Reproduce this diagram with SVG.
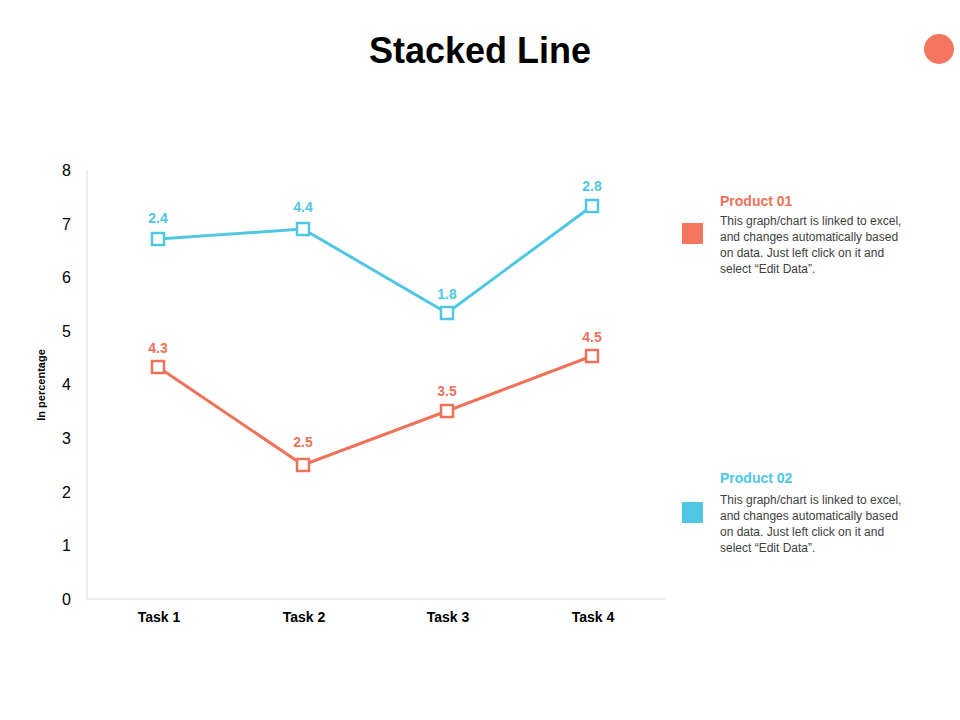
<svg xmlns="http://www.w3.org/2000/svg" width="960" height="720" viewBox="0 0 960 720">
<style>
text{font-family:"Liberation Sans",Arial,sans-serif}
.t{font-size:36px;font-weight:bold;fill:#000}
.ax{font-size:16px;fill:#000}
.cat{font-size:14px;font-weight:bold;fill:#000}
.lo{font-size:14px;font-weight:bold;fill:#ee7259}
.lb{font-size:14px;font-weight:bold;fill:#4fc7e3}
.d{font-size:12px;fill:#404040}
.o{fill:none;stroke:#ee7259;stroke-width:3}
.b{fill:none;stroke:#4fc7e3;stroke-width:3}
.mo{fill:#fff;stroke:#ee7259;stroke-width:2.5}
.mb{fill:#fff;stroke:#4fc7e3;stroke-width:2.5}
</style>
<rect width="960" height="720" fill="#fff"/>
<text class="t" x="480" y="63" text-anchor="middle">Stacked Line</text>
<circle cx="939" cy="49" r="15" fill="#f47560"/>
<g id="axes">
<line x1="87" y1="170" x2="87" y2="599" stroke="#d9d9d9"/>
<line x1="87" y1="599" x2="665" y2="599" stroke="#d9d9d9"/>
<g class="ax" text-anchor="end">
<text x="71" y="605">0</text><text x="71" y="551">1</text><text x="71" y="498">2</text><text x="71" y="444">3</text><text x="71" y="390">4</text><text x="71" y="337">5</text><text x="71" y="283">6</text><text x="71" y="230">7</text><text x="71" y="176">8</text>
</g>
<text x="45" y="385" font-size="11" font-weight="bold" text-anchor="middle" transform="rotate(-90 45 385)">In percentage</text>
<g class="cat" text-anchor="middle">
<text x="159" y="622">Task 1</text><text x="304" y="622">Task 2</text><text x="448" y="622">Task 3</text><text x="593" y="622">Task 4</text>
</g>
</g>
<g id="connectors">
<polyline class="o" points="158,367 303,465 447,411 592,356"/>
<polyline class="b" points="158,239 303,229 447,313 592,206"/>
</g>
<g id="product01-series">
<rect class="mo" x="152" y="361" width="12" height="12"/><rect class="mo" x="297" y="459" width="12" height="12"/><rect class="mo" x="441" y="405" width="12" height="12"/><rect class="mo" x="586" y="350" width="12" height="12"/>
<g class="lo" text-anchor="middle"><text x="158" y="353">4.3</text><text x="303" y="447">2.5</text><text x="447" y="396">3.5</text><text x="592" y="342">4.5</text></g>
</g>
<g id="product02-series">
<rect class="mb" x="152" y="233" width="12" height="12"/><rect class="mb" x="297" y="223" width="12" height="12"/><rect class="mb" x="441" y="307" width="12" height="12"/><rect class="mb" x="586" y="200" width="12" height="12"/>
<g class="lb" text-anchor="middle"><text x="158" y="223">2.4</text><text x="303" y="212">4.4</text><text x="447" y="299">1.8</text><text x="592" y="191">2.8</text></g>
</g>
<g id="legend-product01">
<rect x="682" y="223" width="21" height="21" fill="#f47560"/>
<text class="lo" x="720" y="206">Product 01</text>
<g class="d"><text x="720" y="225">This graph/chart is linked to excel,</text><text x="720" y="241">and changes automatically based</text><text x="720" y="257">on data. Just left click on it and</text><text x="720" y="273">select “Edit Data”.</text></g>
</g>
<g id="legend-product02">
<rect x="682" y="502" width="21" height="21" fill="#4fc7e3"/>
<text class="lb" x="720" y="483">Product 02</text>
<g class="d"><text x="720" y="504">This graph/chart is linked to excel,</text><text x="720" y="520">and changes automatically based</text><text x="720" y="536">on data. Just left click on it and</text><text x="720" y="552">select “Edit Data”.</text></g>
</g>
</svg>
